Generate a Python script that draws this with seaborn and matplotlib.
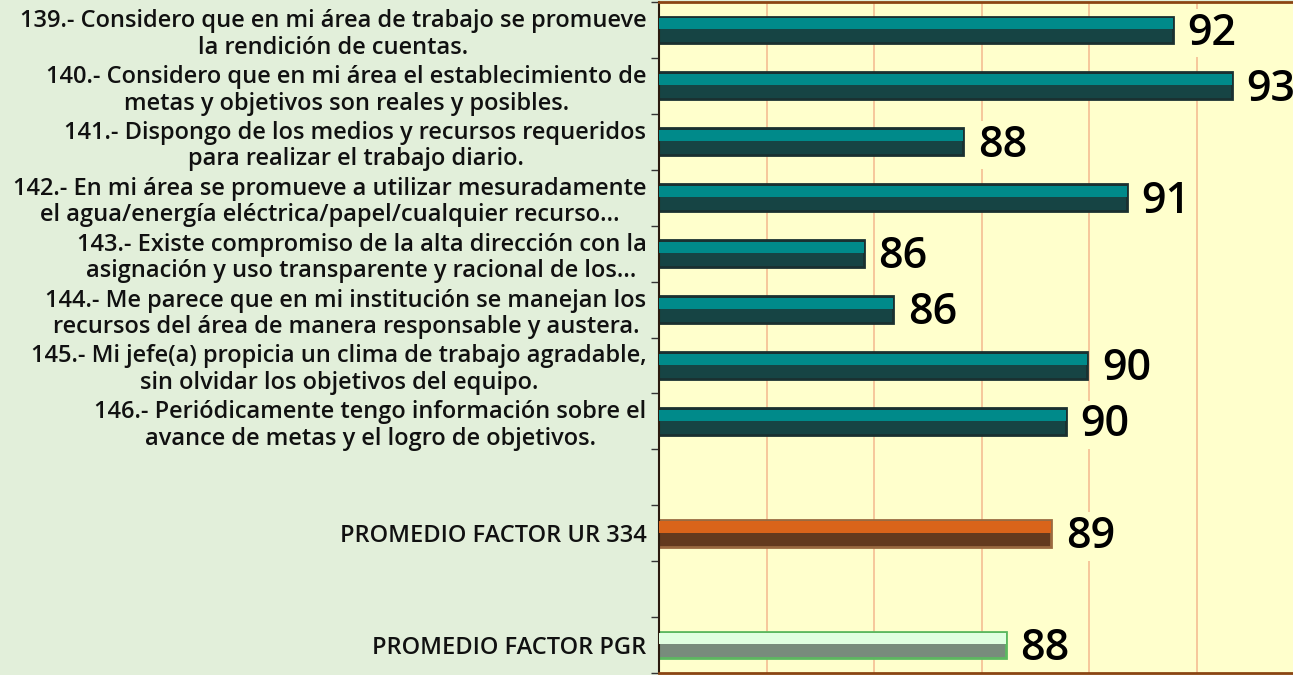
import numpy as np
import pandas as pd
import matplotlib
matplotlib.use("Agg")
import matplotlib.pyplot as plt
import seaborn as sns

# ---------------------------------------------------------------------------
# Data (bar lengths, labels show the rounded value)
# ---------------------------------------------------------------------------
labels = [
    "139.- Considero que en mi área de trabajo se promueve\nla rendición de cuentas.",
    "140.- Considero que en mi área el establecimiento de\nmetas y objetivos son reales y posibles.",
    "141.- Dispongo de los medios y recursos requeridos\npara realizar el trabajo diario.",
    "142.- En mi área se promueve a utilizar mesuradamente\nel agua/energía eléctrica/papel/cualquier recurso…",
    "143.- Existe compromiso de la alta dirección con la\nasignación y uso transparente y racional de los…",
    "144.- Me parece que en mi institución se manejan los\nrecursos del área de manera responsable y austera.",
    "145.- Mi jefe(a) propicia un clima de trabajo agradable,\nsin olvidar los objetivos del equipo.",
    "146.- Periódicamente tengo información sobre el\navance de metas y el logro de objetivos.",
    " ",
    "PROMEDIO FACTOR UR 334",
    "  ",
    "PROMEDIO FACTOR PGR",
]
values = [91.56, 92.66, 87.66, 90.71, 85.81, 86.36, 89.97, 89.57,
          np.nan, 89.30, np.nan, 88.45]
groups = ["item"] * 8 + ["blank", "ur", "blank", "pgr"]

# colours: dark lower face, light upper face, outline
dark_col = {"item": "#0E4C4C", "ur": "#6E3813", "pgr": "#74907A", "blank": "#FFFFFF"}
light_col = {"item": "#008A8A", "ur": "#D9641A", "pgr": "#E0FFE0", "blank": "#FFFFFF"}
edge_col = {"item": "#1A3030", "ur": "#9A6A40", "pgr": "#5CB860", "blank": "#FFFFFF"}

df = pd.DataFrame({"label": labels, "value": values, "group": groups})

# ---------------------------------------------------------------------------
# Figure
# ---------------------------------------------------------------------------
sns.set_theme(style="white")
plt.rcParams["font.family"] = ["Open Sans", "DejaVu Sans"]

W, H = 1293, 675
PLOT_BG = "#FFFFCC"
fig = plt.figure(figsize=(W / 100, H / 100), dpi=100, facecolor="#E2EFDA")

px_unit = 53.75          # pixels per value unit
x0_px, right_px = 659, 1310
x_min = 82
ax = fig.add_axes([x0_px / W, 2 / H, (right_px - x0_px) / W, 671 / H])
ax.set_facecolor(PLOT_BG)

sns.barplot(
    data=df, x="value", y="label", hue="group", order=labels,
    palette=dark_col, dodge=False, width=0.48, legend=False,
    linewidth=2, ax=ax,
)
# outline colour per bar, matched by the bar's row
for bar in ax.patches:
    row = int(round(bar.get_y() + bar.get_height() / 2))
    if 0 <= row < len(groups):
        bar.set_edgecolor(edge_col[groups[row]])

# lighter upper face for the bevel look
pos = np.arange(len(labels))
ax.barh(pos - 0.11, values, height=0.2,
        color=[light_col[g] for g in groups], linewidth=0, zorder=3)

ax.set_xlim(x_min, x_min + (right_px - x0_px) / px_unit)
ax.set_ylim(len(labels) - 0.5, -0.5)
ax.set_xticks(np.arange(84, 96, 2))
ax.set_xticklabels([])
ax.tick_params(axis="x", length=0)
ax.grid(axis="x", color="#F4B88E", linewidth=1.1)
ax.grid(axis="y", visible=False)
ax.set_axisbelow(True)
ax.set_xlabel("")
ax.set_ylabel("")

ax.set_yticks(pos)
ax.set_yticklabels(labels, fontsize=17, fontweight="semibold",
                   color="#111111", multialignment="center", linespacing=1.15)
ax.tick_params(axis="y", which="major", length=0, pad=9)
ax.set_yticks(np.arange(-0.5, len(labels), 1), minor=True)
ax.tick_params(axis="y", which="minor", length=6, width=1,
               color="#333333", left=True)

for side in ["top", "bottom"]:
    ax.spines[side].set_color("#8B4513")
    ax.spines[side].set_linewidth(2)
ax.spines["left"].set_color("#2B1A0E")
ax.spines["left"].set_linewidth(1.5)
ax.spines["right"].set_visible(False)

# value labels
for i, v in enumerate(values):
    if np.isnan(v):
        continue
    ax.text(v + 0.27, i + 0.06, f"{v:.0f}", fontsize=31, fontweight="semibold",
            color="#000000", ha="left", va="center", zorder=6, clip_on=False,
            bbox=dict(facecolor=PLOT_BG, edgecolor="none", pad=2))

fig.savefig("out.png", dpi=100, facecolor=fig.get_facecolor())
